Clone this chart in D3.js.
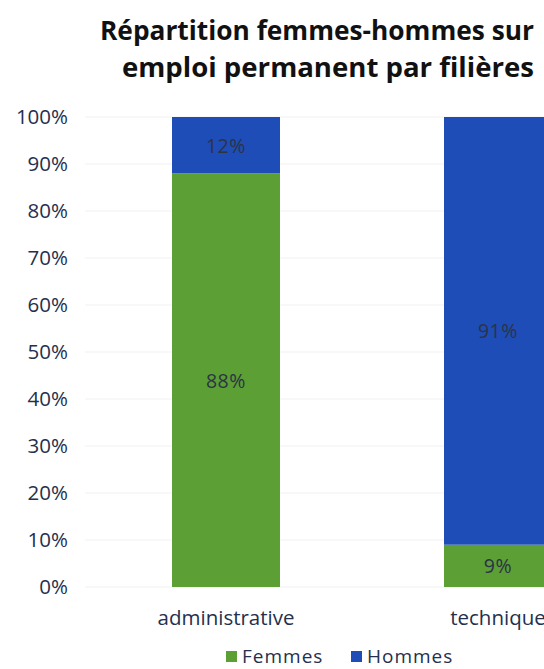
<!DOCTYPE html>
<html>
<head>
<meta charset="utf-8">
<script src="https://cdn.jsdelivr.net/npm/d3@7"></script>
<style>
  html, body { margin: 0; padding: 0; background: #fff; }
  svg { display: block; font-family: "Open Sans", sans-serif; }
</style>
</head>
<body>
<svg id="chart" width="544" height="669"></svg>
<script>
const categories = ["administrative", "technique"];
const femmes = [0.88, 0.09];
const hommes = [0.12, 0.91];
const seriesNames = ["Femmes", "Hommes"];
const yTicks = [0, 0.1, 0.2, 0.3, 0.4, 0.5, 0.6, 0.7, 0.8, 0.9, 1.0];
const titleLines = ["Répartition femmes-hommes sur", "emploi permanent par filières"];

const colors = { Femmes: "#5c9f35", Hommes: "#1f4db7" };
const textColor = "#24304d";

const svg = d3.select("#chart");
const x = d3.scaleBand().domain(categories).range([90, 634]).paddingInner(0.603).paddingOuter(0.3015);
const y = d3.scaleLinear().domain([0, 1]).range([587, 117]);

// title
svg.append("g").selectAll("text").data(titleLines).join("text")
  .attr("x", (d, i) => i === 0 ? 100 : 122)
  .attr("y", (d, i) => i === 0 ? 40 : 77)
  .attr("font-size", 26.5).attr("font-weight", 700).attr("fill", "#111")
  .attr("textLength", (d, i) => i === 0 ? 434 : 412)
  .attr("lengthAdjust", "spacingAndGlyphs")
  .text(d => d);

// gridlines
svg.append("g").selectAll("line").data(yTicks).join("line")
  .attr("x1", 85).attr("x2", 544)
  .attr("y1", d => y(d)).attr("y2", d => y(d))
  .attr("stroke", "#f1f1f1").attr("stroke-width", 1);

// y axis
const yAxis = d3.axisLeft(y).tickValues(yTicks).tickFormat(d3.format(".0%")).tickSize(0).tickPadding(0);
const ya = svg.append("g").attr("transform", "translate(68,0)").call(yAxis);
ya.select(".domain").remove();
ya.selectAll("text").attr("font-size", 20.5).attr("fill", textColor).attr("font-family", "Open Sans, sans-serif");

// stacked bars
const rows = categories.map((c, i) => ({ cat: c, Femmes: femmes[i], Hommes: hommes[i] }));
const stack = d3.stack().keys(seriesNames)(rows);
const g = svg.append("g");
stack.forEach(s => {
  g.selectAll(null).data(s).join("rect")
    .attr("x", d => x(d.data.cat))
    .attr("width", x.bandwidth())
    .attr("y", d => y(d[1]))
    .attr("height", d => y(d[0]) - y(d[1]))
    .attr("fill", colors[s.key]);
  g.selectAll(null).data(s).join("text")
    .attr("x", d => x(d.data.cat) + x.bandwidth() / 2)
    .attr("y", d => (y(d[0]) + y(d[1])) / 2)
    .attr("text-anchor", "middle").attr("dominant-baseline", "central")
    .attr("font-size", 19.5).attr("letter-spacing", 0.6).attr("fill", "#2b3345")
    .text(d => d3.format(".0%")(d[1] - d[0]));
});

// x axis labels
const xAxis = d3.axisBottom(x).tickSize(0).tickPadding(0);
const xa = svg.append("g").attr("transform", "translate(0,610)").call(xAxis);
xa.select(".domain").remove();
xa.selectAll("text").attr("font-size", 20.5).attr("fill", textColor).attr("font-family", "Open Sans, sans-serif");

// legend
const legendX = [226, 351];
const lg = svg.append("g").selectAll("g").data(seriesNames).join("g")
  .attr("transform", (d, i) => `translate(${legendX[i]},0)`);
lg.append("rect").attr("x", 0).attr("y", 651).attr("width", 11).attr("height", 11).attr("fill", d => colors[d]);
lg.append("text").attr("x", 16).attr("y", 663).attr("font-size", 19).attr("letter-spacing", 1).attr("fill", textColor).text(d => d);
</script>
</body>
</html>
